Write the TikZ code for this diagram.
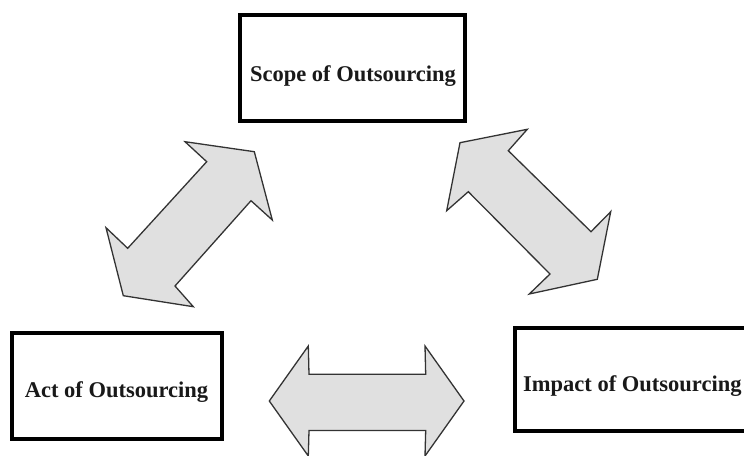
\documentclass[tikz,border=0pt]{standalone}
\usepackage{fontspec}
\setmainfont{Liberation Serif}
\begin{document}
\begin{tikzpicture}[x=1pt,y=-1pt]
\tikzset{
  box/.style={draw=black, line width=3.6pt, fill=white, inner sep=0pt},
  lbl/.style={font=\fontsize{22.5}{26}\selectfont\bfseries, inner sep=0pt, text=black!90},
  dblarrow/.style={draw=black!80, line width=1.3pt, fill=black!12, line join=miter}
}
\useasboundingbox (0,0) rectangle (744,455);
\clip (0,0) rectangle (744,455);

% boxes
\node[box, minimum width=225pt, minimum height=106pt] (scope) at (352.5,68) {};
\node[lbl, anchor=base] (scopet) at (353,81.5) {Scope of Outsourcing};

\node[box, minimum width=210pt, minimum height=106pt] (act) at (117,386) {};
\node[lbl, anchor=base] (actt) at (116.5,397) {Act of Outsourcing};

\node[box, minimum width=245pt, minimum height=103pt] (impact) at (637.5,379.5) {};
\node[lbl, anchor=base west] (impactt) at (523,391.5) {Impact of Outsourcing};

% left diagonal double arrow
\draw[dblarrow] (254.3,151.7) -- (272.3,220) -- (251,200.7) -- (175,286)
  -- (193.3,306.7) -- (123.3,295.7) -- (106,227.7) -- (127.7,248.3)
  -- (206.7,161.7) -- (185,141.7) -- cycle;

% right diagonal double arrow
\draw[dblarrow] (460,142.7) -- (527.3,129.3) -- (508.3,150.7) -- (591,231.7)
  -- (610.7,211.7) -- (597.3,279.3) -- (529.3,294) -- (550,274)
  -- (468.3,191.7) -- (446.7,210.7) -- cycle;

% horizontal double arrow
\draw[dblarrow] (269.3,401) -- (308.3,346) -- (309,374.3) -- (425.7,374.3)
  -- (425,346) -- (464,401) -- (425,456) -- (425.7,430.5)
  -- (309,430.5) -- (308.3,456) -- cycle;
\end{tikzpicture}
\end{document}
